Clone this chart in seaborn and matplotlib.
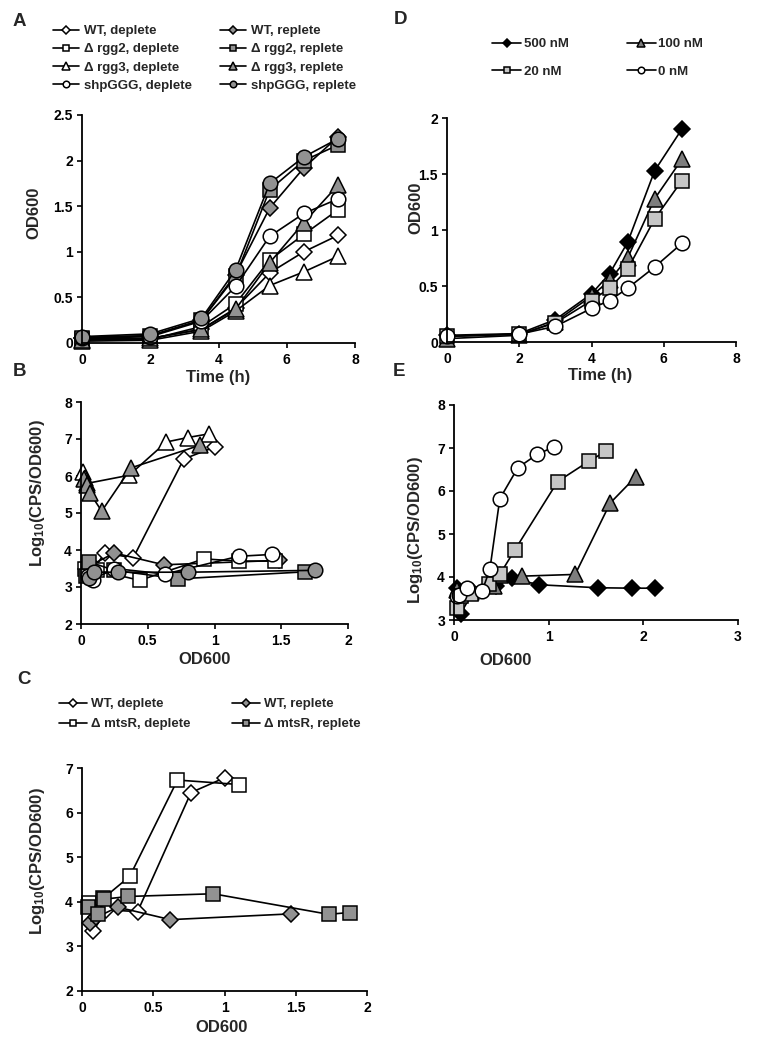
import numpy as np
import pandas as pd
import matplotlib
matplotlib.use("Agg")
import matplotlib.pyplot as plt
import seaborn as sns
from matplotlib.ticker import FuncFormatter

sns.set_style("ticks")
plt.rcParams['font.family'] = ['Liberation Sans', 'DejaVu Sans']
plt.rcParams['font.weight'] = 'bold'
plt.rcParams['axes.labelweight'] = 'bold'
plt.rcParams['mathtext.fontset'] = 'custom'
plt.rcParams['mathtext.rm'] = 'Liberation Sans:bold'
plt.rcParams['mathtext.it'] = 'Liberation Sans:bold'
plt.rcParams['mathtext.bf'] = 'Liberation Sans:bold'

# ---- panel A: growth, OD600 vs time ----
time_a = [0, 2, 3.5, 4.5, 5.5, 6.5, 7.5]
a_wt_dep = [0.05, 0.05, 0.15, 0.38, 0.77, 1.0, 1.18]
a_wt_rep = [0.06, 0.08, 0.25, 0.75, 1.48, 1.92, 2.26]
a_rgg2_dep = [0.04, 0.04, 0.18, 0.43, 0.91, 1.19, 1.46]
a_rgg2_rep = [0.06, 0.08, 0.25, 0.73, 1.68, 2.0, 2.17]
a_rgg3_dep = [0.02, 0.03, 0.13, 0.35, 0.63, 0.78, 0.95]
a_rgg3_rep = [0.03, 0.05, 0.15, 0.37, 0.88, 1.32, 1.73]
a_shp_dep = [0.05, 0.07, 0.24, 0.62, 1.17, 1.42, 1.58]
a_shp_rep = [0.07, 0.1, 0.27, 0.8, 1.75, 2.04, 2.24]

# ---- panel B: log10(CPS/OD600) vs OD600 ----
b_wt_dep_x = [0.04, 0.06, 0.18, 0.39, 0.77, 1.0]
b_wt_dep_y = [3.5, 3.3, 3.93, 3.78, 6.46, 6.78]
b_wt_rep_x = [0.05, 0.08, 0.25, 0.62, 1.48]
b_wt_rep_y = [3.45, 3.6, 3.92, 3.6, 3.72]
b_rgg2_dep_x = [0.03, 0.06, 0.12, 0.44, 0.92, 1.18, 1.45]
b_rgg2_dep_y = [3.5, 3.35, 3.45, 3.18, 3.76, 3.7, 3.7]
b_rgg2_rep_x = [0.04, 0.06, 0.25, 0.73, 1.68]
b_rgg2_rep_y = [3.3, 3.68, 3.45, 3.22, 3.41]
b_rgg3_dep_x = [0.015, 0.03, 0.045, 0.36, 0.64, 0.8, 0.96]
b_rgg3_dep_y = [6.1, 5.95, 5.8, 6.02, 6.92, 7.04, 7.14]
b_rgg3_rep_x = [0.025, 0.045, 0.065, 0.155, 0.375, 0.89]
b_rgg3_rep_y = [5.92, 5.75, 5.55, 5.05, 6.22, 6.83]
b_shp_dep_x = [0.05, 0.09, 0.25, 0.63, 1.18, 1.43]
b_shp_dep_y = [3.3, 3.2, 3.5, 3.35, 3.83, 3.88]
b_shp_rep_x = [0.06, 0.1, 0.28, 0.8, 1.75]
b_shp_rep_y = [3.25, 3.4, 3.4, 3.4, 3.45]

# ---- panel C ----
c_wt_dep_x = [0.08, 0.17, 0.39, 0.765, 1.0]
c_wt_dep_y = [3.35, 3.82, 3.78, 6.45, 6.78]
c_wt_rep_x = [0.056, 0.1, 0.25, 0.62, 1.47]
c_wt_rep_y = [3.52, 3.65, 3.88, 3.6, 3.73]
c_mts_dep_x = [0.05, 0.15, 0.335, 0.67, 1.1]
c_mts_dep_y = [3.97, 4.08, 4.57, 6.73, 6.63]
c_mts_rep_x = [0.045, 0.11, 0.157, 0.325, 0.92, 1.73, 1.88]
c_mts_rep_y = [3.88, 3.72, 4.06, 4.12, 4.18, 3.72, 3.76]

# ---- panel D: growth with Mn ----
time_d = [0, 2, 3, 4, 4.5, 5, 5.75, 6.5]
d_500 = [0.06, 0.075, 0.2, 0.43, 0.61, 0.89, 1.53, 1.9]
d_100 = [0.03, 0.06, 0.18, 0.41, 0.55, 0.75, 1.28, 1.63]
d_20 = [0.05, 0.07, 0.17, 0.37, 0.48, 0.65, 1.1, 1.44]
d_0 = [0.05, 0.07, 0.14, 0.3, 0.37, 0.48, 0.67, 0.88]

# ---- panel E ----
e_500_x = [0.03, 0.07, 0.2, 0.44, 0.615, 0.895, 1.52, 1.88, 2.12]
e_500_y = [3.75, 3.15, 3.65, 3.79, 3.97, 3.82, 3.75, 3.74, 3.74]
e_100_x = [0.03, 0.06, 0.18, 0.42, 0.49, 0.72, 1.28, 1.65, 1.92]
e_100_y = [3.7, 3.6, 3.65, 3.79, 4.04, 4.02, 4.06, 5.72, 6.33]
e_20_x = [0.035, 0.07, 0.175, 0.368, 0.484, 0.64, 1.095, 1.43, 1.61]
e_20_y = [3.28, 3.55, 3.6, 3.83, 4.06, 4.62, 6.22, 6.70, 6.93]
e_0_x = [0.03, 0.053, 0.14, 0.298, 0.379, 0.484, 0.674, 0.877, 1.06]
e_0_y = [3.55, 3.58, 3.75, 3.68, 4.18, 5.82, 6.54, 6.85, 7.03]

labels_a = ["WT, deplete", "WT, replete", "\u0394 rgg2, deplete", "\u0394 rgg2, replete",
            "\u0394 rgg3, deplete", "\u0394 rgg3, replete", "shpGGG, deplete", "shpGGG, replete"]
labels_c = ["WT, deplete", "WT, replete", "\u0394 mtsR, deplete", "\u0394 mtsR, replete"]
labels_d = ["500 nM", "100 nM", "20 nM", "0 nM"]

GRAY = "#929292"
MS = {"D": 8.5, "s": 9.5, "^": 11.5, "o": 10.5}

W, H = 762, 1047
fig = plt.figure(figsize=(W / 100, H / 100), dpi=100)


def ax_at(l, t, r, b):
    return fig.add_axes([l / W, 1 - b / H, (r - l) / W, (b - t) / H])


def draw(ax, x, y, marker, face, label=None):
    df = pd.DataFrame({"x": x, "y": y})
    sns.lineplot(data=df, x="x", y="y", ax=ax, sort=False, estimator=None,
                 color="black", lw=1.2, marker=marker, markersize=MS[marker],
                 markerfacecolor=face, markeredgecolor="black",
                 markeredgewidth=1.1, label=label)


def style(ax, xlim, ylim, xticks, yticks, xlabel, ylabel, xl, yl):
    ax.set_xlim(*xlim)
    ax.set_ylim(*ylim)
    ax.set_xticks(xticks)
    ax.set_yticks(yticks)
    fmt = FuncFormatter(lambda v, p: f"{v:g}")
    ax.xaxis.set_major_formatter(fmt)
    ax.yaxis.set_major_formatter(fmt)
    sns.despine(ax=ax)
    for s in ["left", "bottom"]:
        ax.spines[s].set_linewidth(1.3)
        ax.spines[s].set_color("black")
    ax.tick_params(direction="out", length=3.5, width=1.2, labelsize=10,
                   colors="black", pad=3)
    ax.tick_params(axis="x", pad=3.5)
    for t in ax.get_xticklabels() + ax.get_yticklabels():
        t.set_fontweight("bold")
    ax.set_xlabel(xlabel, fontsize=12, fontweight="bold")
    ax.set_ylabel(ylabel, fontsize=12, fontweight="bold")
    ax.xaxis.set_label_coords(*xl)
    ax.yaxis.set_label_coords(*yl)


def legend(ax, order, x0, y0, hl, tp, colsp, lsp):
    h, l = ax.get_legend_handles_labels()
    ax.legend([h[i] for i in order], [l[i] for i in order],
              loc="upper left", bbox_to_anchor=(x0 / W, 1 - y0 / H),
              bbox_transform=fig.transFigure, ncol=2, frameon=False,
              fontsize=9.5, handlelength=hl, handletextpad=tp,
              columnspacing=colsp, labelspacing=lsp, borderpad=0,
              borderaxespad=0, markerscale=0.45)


log_label = r"Log$_{10}$(CPS/OD600)"

# A
axA = ax_at(82, 115, 355, 343)
styles_a = [("D", "white"), ("D", GRAY), ("s", "white"), ("s", GRAY),
            ("^", "white"), ("^", GRAY), ("o", "white"), ("o", GRAY)]
series_a = [a_wt_dep, a_wt_rep, a_rgg2_dep, a_rgg2_rep,
            a_rgg3_dep, a_rgg3_rep, a_shp_dep, a_shp_rep]
for (m, f), ys, lab in zip(styles_a, series_a, labels_a):
    draw(axA, time_a, ys, m, f, lab)
style(axA, (0, 8), (0, 2.5), [0, 2, 4, 6, 8], [0, 0.5, 1, 1.5, 2, 2.5],
      "Time (h)", "OD600", (0.5, -0.118), (-0.148, 0.57))
legend(axA, [0, 2, 4, 6, 1, 3, 5, 7], 53, 25, 2.0, 0.35, 2.1, 0.45)

# B
axB = ax_at(81, 402, 348, 624)
series_b = [(b_wt_dep_x, b_wt_dep_y), (b_wt_rep_x, b_wt_rep_y),
            (b_rgg2_dep_x, b_rgg2_dep_y), (b_rgg2_rep_x, b_rgg2_rep_y),
            (b_rgg3_dep_x, b_rgg3_dep_y), (b_rgg3_rep_x, b_rgg3_rep_y),
            (b_shp_dep_x, b_shp_dep_y), (b_shp_rep_x, b_shp_rep_y)]
for (m, f), (xs, ys) in zip(styles_a, series_b):
    draw(axB, xs, ys, m, f)
style(axB, (0, 2), (2, 8), [0, 0.5, 1, 1.5, 2], range(2, 9),
      "OD600", log_label, (0.464, -0.128), (-0.127, 0.59))

# C
axC = ax_at(82, 768, 367, 991)
styles_c = [("D", "white"), ("D", GRAY), ("s", "white"), ("s", GRAY)]
series_c = [(c_wt_dep_x, c_wt_dep_y), (c_wt_rep_x, c_wt_rep_y),
            (c_mts_dep_x, c_mts_dep_y), (c_mts_rep_x, c_mts_rep_y)]
for (m, f), (xs, ys), lab in zip(styles_c, series_c, labels_c):
    draw(axC, xs, ys, m, f, lab)
style(axC, (0, 2), (2, 7), [0, 0.5, 1, 1.5, 2], range(2, 8),
      "OD600", log_label, (0.49, -0.13), (-0.123, 0.583))
legend(axC, [0, 2, 1, 3], 59, 698, 2.1, 0.3, 3.2, 0.6)

# D
axD = ax_at(447, 118, 736, 342)
styles_d = [("D", "black"), ("^", "#7d7d7d"), ("s", "#c6c6c6"), ("o", "white")]
series_d = [d_500, d_100, d_20, d_0]
for (m, f), ys, lab in zip(styles_d, series_d, labels_d):
    draw(axD, time_d, ys, m, f, lab)
style(axD, (0, 8), (0, 2), [0, 2, 4, 6, 8], [0, 0.5, 1, 1.5, 2],
      "Time (h)", "OD600", (0.53, -0.118), (-0.083, 0.598))
legend(axD, [0, 2, 1, 3], 492, 38, 2.2, 0.2, 4.4, 1.15)

# E
axE = ax_at(454, 405, 738, 620)
series_e = [(e_500_x, e_500_y), (e_100_x, e_100_y), (e_20_x, e_20_y), (e_0_x, e_0_y)]
for (m, f), (xs, ys) in zip(styles_d, series_e):
    draw(axE, xs, ys, m, f)
style(axE, (0, 3), (3, 8), [0, 1, 2, 3], range(3, 9),
      "OD600", log_label, (0.18, -0.153), (-0.102, 0.42))

for ax in [axB, axE]:
    if ax.get_legend() is not None:
        ax.get_legend().remove()

for letter, x, y in [("A", 13, 13), ("B", 13, 363), ("C", 17, 671),
                     ("D", 394, 11), ("E", 393, 363)]:
    fig.text(x / W, 1 - y / H, letter, fontsize=13.5, fontweight="bold",
             va="top", ha="left")

for ax in [axA, axB, axC, axD, axE]:
    for ln in ax.lines:
        ln.set_clip_on(False)

fig.savefig("out.png", dpi=100, facecolor="white")
